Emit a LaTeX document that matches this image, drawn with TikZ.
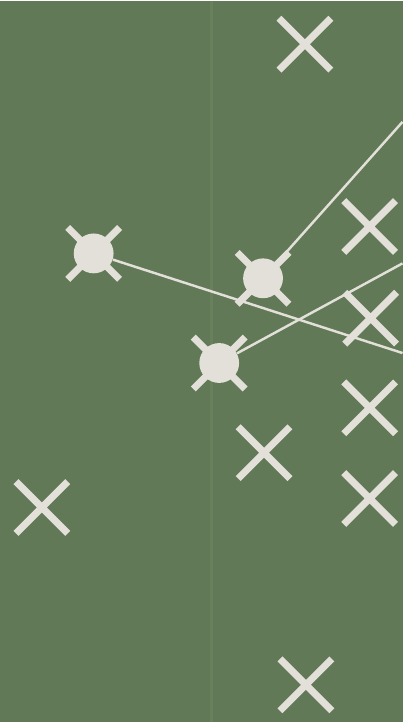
\documentclass[tikz,border=0pt]{standalone}
\usepackage{tikz}
\usetikzlibrary{positioning}

\definecolor{pitch}{RGB}{97,121,87}
\definecolor{chalk}{RGB}{226,224,216}
\definecolor{halfway}{RGB}{104,129,92}

\begin{document}
\begin{tikzpicture}[
  x=0.02cm, y=-0.02cm,
  chalkline/.style={draw=chalk, line width=4pt, line cap=butt},
  player/.style={circle, fill=chalk, inner sep=0pt, minimum size=0.8cm},
  pass/.style={draw=chalk, line width=1.4pt},
  cross/.pic={\draw[chalkline] (-26,-26) -- (26,26) (-26,26) -- (26,-26);}
]
\fill[pitch] (0,0) rectangle (404,723);
\draw[halfway, line width=1.5pt] (212,0) -- (212,723);
% defenders
\foreach \n/\p in {x1/{306,43},x2/{371,226},x3/{372,318},x4/{371,408},
                   x5/{371,499},x6/{265,453},x7/{42,508},x8/{307,686}} {
  \pic at (\p) {cross};
  \coordinate (\n) at (\p);
}
% attackers
\foreach \n/\p in {a/{94,253},b/{264,278},c/{220,363}} {
  \pic at (\p) {cross};
  \node[player] (\n) at (\p) {};
}
\coordinate (ea) at (404,353);
\coordinate (eb) at (404,121);
\coordinate (ec) at (404,263);
\draw[pass] (a) -- (ea);
\draw[pass] (b) -- (eb);
\draw[pass] (c) -- (ec);
\end{tikzpicture}
\end{document}
